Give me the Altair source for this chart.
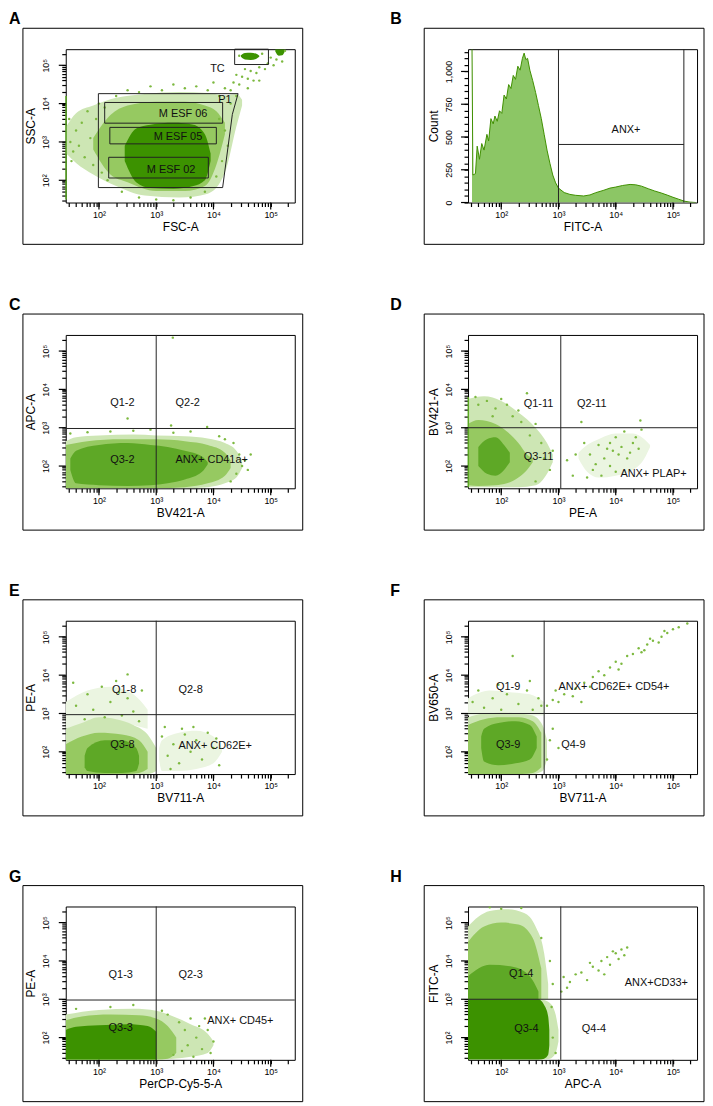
import math
import altair as alt
import pandas as pd

FONT = "Liberation Sans"
XDOM = [1.42, 5.42]          # log10 of fluorescence / scatter intensity
LOGDOM = [1.42, 5.42]
COUNTDOM = [0, 1170]
W, H = 230, 154
LETTER_Y = -25

COLORS = {"faint": "#ebf5e1", "halo": "#cde6b4", "mid": "#96c961", "dense": "#5ea826", "core": "#3c9200"}
LEVELS = ["faint", "halo", "mid", "dense", "core"]
DOT = "#7db940"
TICK = "#000000"

# ---------------- Panel A (FSC-A vs SSC-A) ----------------
A_BLOBS = [
    ("halo", [1.43, 1.6, 1.9, 2.3, 2.8, 3.4, 3.9, 4.2, 4.4, 4.5],
             [2.7, 2.45, 2.15, 1.85, 1.6, 1.55, 1.65, 2.2, 3.4, 3.95],
             [3.4, 3.75, 3.95, 4.15, 4.25, 4.3, 4.28, 4.22, 4.25, 4.1]),
    ("mid", [1.9, 2.2, 2.5, 3.0, 3.5, 3.85, 4.05, 4.2],
            [2.8, 2.15, 1.95, 1.72, 1.72, 1.85, 2.4, 3.2],
            [3.1, 3.7, 3.95, 4.05, 4.05, 3.95, 3.8, 3.5]),
    ("core", [2.45, 2.65, 2.9, 3.3, 3.65, 3.85, 3.95],
             [2.5, 1.95, 1.8, 1.78, 1.85, 2.0, 2.5],
             [2.9, 3.35, 3.45, 3.5, 3.45, 3.2, 2.7]),
    ("core", [4.48, 4.55, 4.65, 4.75, 4.8], [5.22, 5.15, 5.14, 5.17, 5.22], [5.26, 5.32, 5.33, 5.3, 5.25]),
    ("core", [5.08, 5.14, 5.2, 5.24], [5.36, 5.25, 5.26, 5.34], [5.42, 5.42, 5.42, 5.42]),
]
A_PTS = [(1.5, 3.0), (1.55, 2.75), (1.6, 3.3), (1.65, 2.9), (1.7, 3.5), (1.75, 2.6), (1.8, 3.8), (1.85, 3.1),
         (1.9, 2.4), (1.95, 3.6), (2.0, 4.0), (2.05, 2.2), (2.1, 3.9), (2.15, 2.0), (2.3, 4.2), (2.5, 4.35),
         (2.7, 4.3), (2.9, 4.45), (3.1, 4.35), (3.3, 4.5), (3.5, 4.4), (3.7, 4.45), (3.9, 4.35), (4.0, 4.55),
         (4.1, 4.2), (4.2, 4.4), (4.3, 4.35), (4.35, 4.55), (4.45, 4.5), (4.5, 4.7), (4.6, 4.65), (4.65, 4.85),
         (4.75, 4.8), (4.8, 4.95), (4.9, 4.9), (4.95, 5.05), (5.05, 5.0), (5.1, 5.15), (5.2, 5.1), (4.4, 4.75),
         (4.55, 4.9), (4.7, 4.6), (5.0, 5.2), (4.1, 3.6), (4.2, 3.3), (4.25, 2.9), (4.15, 2.5), (4.05, 2.1),
         (2.4, 1.7), (2.7, 1.55), (3.0, 1.5), (3.3, 1.48), (3.6, 1.55), (3.85, 1.7), (4.45, 5.25), (4.85, 5.3),
         (5.25, 5.38), (4.3, 4.0), (4.4, 4.2), (4.6, 4.4), (4.8, 4.6), (1.48, 3.6), (1.52, 2.5)]
A_EDGE = [(1.425, 1.5, 4.2)]
A_RECTS = [("TC", 4.37, 4.96, 5.02, 5.42), ("M ESF 06", 2.10, 4.16, 3.49, 4.03),
           ("M ESF 05", 2.19, 4.05, 2.95, 3.38), ("M ESF 02", 2.17, 3.91, 2.06, 2.60)]
A_P1 = [(1.99, 1.81), (1.99, 4.26), (4.43, 4.26), (4.33, 3.72), (4.16, 1.81), (1.99, 1.81)]
A_LABELS = [(4.07, 4.89, "TC"), (4.2, 4.1, "P1"), (3.47, 3.72, "M ESF 06"),
            (3.38, 3.14, "M ESF 05"), (3.26, 2.28, "M ESF 02")]

# ---------------- Panel B (FITC-A histogram) ----------------
B_X = [1.49, 1.505, 1.55, 1.58, 1.62, 1.66, 1.70, 1.75, 1.78, 1.82, 1.86, 1.89, 1.93, 1.97, 2.01, 2.05,
       2.09, 2.13, 2.17, 2.21, 2.25, 2.29, 2.33, 2.37, 2.40, 2.43, 2.46, 2.50, 2.55, 2.60, 2.65, 2.70,
       2.75, 2.80, 2.85, 2.90, 2.95, 3.00, 3.10, 3.20, 3.30, 3.44, 3.55, 3.65, 3.78, 3.90, 4.00, 4.12,
       4.25, 4.35, 4.45, 4.57, 4.68, 4.80, 4.91, 5.00, 5.10, 5.20, 5.30, 5.40]
B_COUNT = [1170, 210, 220, 430, 330, 450, 400, 520, 470, 640, 600, 660, 620, 700, 680, 820,
           790, 900, 870, 970, 940, 1040, 1010, 1100, 1140, 1090, 1100, 1010, 930, 840, 740, 640,
           520, 400, 300, 210, 150, 110, 76, 62, 55, 50, 58, 75, 92, 110, 118, 130,
           138, 135, 125, 105, 88, 72, 55, 40, 25, 10, 3, 0]
B_GATE_X = [3.0, 5.19]
B_GATE_SEG = [(3.0, 5.19, 443)]
B_LABELS = [(4.18, 556, "ANX+")]

# ---------------- Panel C ----------------
C_BLOBS = [
    ("halo", [1.42, 1.6, 2.0, 2.6, 3.0, 3.5, 3.9, 4.2, 4.4, 4.5],
             [1.42, 1.42, 1.42, 1.42, 1.42, 1.42, 1.45, 1.55, 1.7, 1.95],
             [2.65, 2.75, 2.8, 2.82, 2.8, 2.78, 2.72, 2.6, 2.4, 2.15]),
    ("mid", [1.42, 1.8, 2.4, 3.0, 3.5, 3.9, 4.2, 4.3],
            [1.42, 1.42, 1.42, 1.42, 1.45, 1.55, 1.75, 1.95],
            [2.55, 2.65, 2.7, 2.7, 2.65, 2.55, 2.35, 2.15]),
    ("dense", [1.5, 1.6, 2.0, 2.5, 2.9, 3.2, 3.5, 3.8, 3.9],
              [1.9, 1.55, 1.5, 1.48, 1.5, 1.55, 1.65, 1.85, 2.05],
              [2.2, 2.4, 2.55, 2.6, 2.55, 2.5, 2.4, 2.25, 2.1]),
]
C_PTS = [(3.29, 5.35), (2.5, 3.24), (3.26, 3.06), (3.89, 3.02), (2.9, 2.95), (4.45, 2.3), (4.5, 2.0),
         (4.35, 2.6), (4.6, 1.9), (2.2, 2.9), (1.8, 2.88), (3.6, 2.9), (4.1, 2.78), (4.3, 1.6),
         (4.55, 2.15), (1.5, 2.85), (2.6, 2.92), (3.3, 2.87), (4.4, 1.8), (4.65, 2.3), (4.2, 2.7)]
C_GATE = (3.0, 2.98)
C_LABELS = [(2.41, 3.64, "Q1-2"), (3.55, 3.64, "Q2-2"), (2.41, 2.15, "Q3-2"), (3.97, 2.15, "ANX+ CD41a+")]

# ---------------- Panel D ----------------
D_BLOBS = [
    ("halo", [1.42, 1.7, 2.0, 2.3, 2.6, 2.8, 2.9],
             [1.45, 1.45, 1.45, 1.45, 1.5, 1.8, 2.1],
             [3.75, 3.82, 3.7, 3.4, 3.0, 2.6, 2.3]),
    ("mid", [1.42, 1.6, 1.9, 2.1, 2.3, 2.45, 2.55],
            [1.5, 1.48, 1.5, 1.55, 1.7, 1.9, 2.1],
            [3.1, 3.2, 3.1, 2.9, 2.6, 2.3, 2.2]),
    ("dense", [1.6, 1.75, 1.9, 2.05, 2.15], [2.0, 1.8, 1.75, 1.9, 2.1], [2.5, 2.7, 2.75, 2.55, 2.35]),
    ("faint", [3.35, 3.5, 3.7, 4.0, 4.3, 4.5, 4.6],
              [2.2, 1.85, 1.7, 1.75, 1.9, 2.2, 2.5],
              [2.35, 2.55, 2.7, 2.85, 2.85, 2.7, 2.55]),
]
D_PTS = [(1.6, 3.6), (1.75, 3.7), (1.9, 3.5), (2.1, 3.6), (2.2, 3.3), (2.35, 3.15), (1.55, 3.8), (2.45, 3.9),
         (1.85, 3.3), (2.0, 3.75), (2.3, 3.45), (2.6, 3.1), (2.7, 2.6), (2.75, 2.2), (2.85, 1.9), (2.6, 1.6),
         (2.9, 2.4), (2.5, 2.8), (3.55, 2.3), (3.7, 2.55), (3.8, 2.2), (3.9, 2.6), (3.95, 2.4), (4.0, 2.75),
         (4.05, 2.3), (4.1, 2.5), (4.15, 2.9), (4.2, 2.2), (4.3, 2.6), (4.4, 2.45), (3.6, 1.9), (3.75, 1.75),
         (4.45, 2.95), (4.43, 3.19), (3.3, 2.3), (3.65, 2.05), (3.85, 2.45), (4.25, 2.35), (3.5, 1.7),
         (3.9, 2.0), (4.0, 1.85), (4.35, 2.75), (3.45, 2.6), (3.25, 1.75), (3.15, 2.15), (3.4, 3.15)]
D_EDGE = [(1.425, 1.45, 3.8)]
D_GATE = (3.04, 3.0)
D_LABELS = [(2.65, 3.63, "Q1-11"), (3.58, 3.63, "Q2-11"), (2.65, 2.23, "Q3-11"), (4.66, 1.79, "ANX+ PLAP+")]

# ---------------- Panel E ----------------
E_BLOBS = [
    ("faint", [1.42, 1.8, 2.2, 2.6, 2.85], [2.6, 2.75, 2.85, 2.7, 2.6], [3.3, 3.6, 3.7, 3.5, 3.1]),
    ("faint", [3.05, 3.1, 3.4, 3.7, 4.0, 4.15], [1.8, 1.5, 1.5, 1.55, 1.7, 2.0], [2.1, 2.3, 2.5, 2.55, 2.4, 2.1]),
    ("halo", [1.42, 1.7, 2.0, 2.3, 2.6, 2.85, 3.0],
             [1.42, 1.42, 1.42, 1.42, 1.42, 1.42, 1.5],
             [2.6, 2.75, 2.9, 2.85, 2.7, 2.45, 2.1]),
    ("mid", [1.42, 1.7, 2.0, 2.4, 2.7, 2.85],
            [1.42, 1.42, 1.42, 1.42, 1.45, 1.55],
            [2.2, 2.4, 2.5, 2.45, 2.3, 2.0]),
    ("dense", [1.75, 1.8, 2.1, 2.4, 2.65, 2.7], [1.6, 1.5, 1.45, 1.45, 1.5, 1.7], [1.9, 2.1, 2.3, 2.3, 2.1, 1.9]),
]
E_PTS = [(1.6, 3.2), (1.8, 3.5), (1.9, 3.1), (2.05, 3.7), (2.2, 3.3), (2.3, 3.85), (2.5, 3.4), (2.6, 3.05),
         (2.75, 3.6), (2.5, 4.02), (1.55, 3.8), (2.1, 2.9), (2.4, 2.95), (2.7, 2.8), (1.75, 2.85), (2.35, 3.55),
         (3.1, 2.4), (3.2, 1.9), (3.3, 2.2), (3.4, 1.7), (3.5, 2.45), (3.6, 2.0), (3.7, 2.3), (3.8, 1.8),
         (3.9, 2.5), (4.0, 2.1), (4.1, 1.65), (3.45, 2.6), (3.65, 2.65), (3.25, 1.55), (4.05, 2.35), (3.15, 2.65)]
E_GATE = (3.0, 2.97)
E_LABELS = [(2.44, 3.61, "Q1-8"), (3.6, 3.61, "Q2-8"), (2.41, 2.18, "Q3-8"), (4.03, 2.15, "ANX+ CD62E+")]

# ---------------- Panel F ----------------
F_BLOBS = [
    ("faint", [1.42, 1.8, 2.2, 2.5, 2.75], [2.95, 2.95, 2.95, 2.95, 2.95], [3.4, 3.6, 3.55, 3.5, 3.3]),
    ("halo", [1.42, 1.7, 2.0, 2.3, 2.55, 2.72, 2.8],
             [1.42, 1.42, 1.42, 1.42, 1.42, 1.5, 1.8],
             [2.9, 3.0, 3.02, 3.0, 2.95, 2.7, 2.3]),
    ("mid", [1.42, 1.7, 2.0, 2.3, 2.55, 2.7],
            [1.42, 1.42, 1.42, 1.42, 1.45, 1.6],
            [2.7, 2.85, 2.9, 2.9, 2.8, 2.5]),
    ("dense", [1.65, 1.7, 1.95, 2.25, 2.5, 2.62], [2.1, 1.75, 1.65, 1.7, 1.8, 2.1], [2.4, 2.6, 2.75, 2.8, 2.7, 2.4]),
]
F_PTS = [(2.8, 3.2), (2.9, 3.35), (3.0, 3.3), (3.1, 3.5), (3.25, 3.45), (3.3, 3.65), (3.45, 3.8), (3.6, 3.95),
         (3.7, 4.1), (3.8, 4.0), (3.9, 4.2), (4.0, 4.35), (4.1, 4.3), (4.2, 4.5), (4.3, 4.55), (4.4, 4.7),
         (4.5, 4.65), (4.55, 4.8), (4.65, 4.9), (4.75, 4.85), (4.8, 5.0), (4.9, 5.1), (5.0, 5.2), (5.1, 5.25),
         (5.25, 5.35), (4.45, 4.6), (4.6, 4.95), (4.85, 5.15), (3.55, 3.7), (4.05, 4.15), (2.95, 3.6), (3.4, 3.3),
         (1.5, 3.3), (1.6, 3.6), (1.7, 3.15), (1.85, 3.4), (2.0, 3.1), (2.1, 3.5), (2.3, 3.25), (2.45, 3.6),
         (2.55, 3.1), (2.65, 3.4), (2.2, 4.5), (2.5, 3.85), (1.95, 3.75), (2.7, 3.2),
         (2.85, 2.3), (2.9, 2.6), (2.8, 1.8), (3.0, 2.1)]
F_GATE = (2.75, 3.0)
F_LABELS = [(2.12, 3.68, "Q1-9"), (3.97, 3.68, "ANX+ CD62E+ CD54+"), (2.12, 2.18, "Q3-9"), (3.26, 2.18, "Q4-9")]

# ---------------- Panel G ----------------
G_BLOBS = [
    ("halo", [1.42, 2.0, 2.6, 3.0, 3.3, 3.6, 3.9, 4.0],
             [1.42, 1.42, 1.42, 1.42, 1.45, 1.5, 1.6, 1.8],
             [2.6, 2.72, 2.75, 2.7, 2.55, 2.35, 2.1, 1.9]),
    ("mid", [1.42, 1.7, 2.2, 2.7, 3.0, 3.2, 3.35],
            [1.42, 1.42, 1.42, 1.42, 1.42, 1.45, 1.6],
            [2.45, 2.55, 2.6, 2.58, 2.5, 2.3, 2.0]),
    ("core", [1.42, 1.6, 2.0, 2.5, 2.85, 3.0],
             [1.42, 1.42, 1.42, 1.42, 1.42, 1.42],
             [2.2, 2.28, 2.32, 2.35, 2.3, 2.15]),
]
G_PTS = [(3.4, 2.4), (3.5, 2.2), (3.55, 1.8), (3.6, 2.5), (3.7, 2.0), (3.75, 2.3), (3.8, 1.7), (3.9, 2.2),
         (3.95, 1.6), (3.85, 2.5), (3.3, 1.55), (3.45, 1.65), (2.2, 2.8), (1.6, 2.75), (2.6, 2.85), (3.1, 2.7),
         (3.65, 1.5), (4.0, 1.9), (3.2, 2.6)]
G_GATE = (3.0, 2.98)
G_LABELS = [(2.38, 3.62, "Q1-3"), (3.6, 3.62, "Q2-3"), (2.38, 2.24, "Q3-3"), (4.47, 2.42, "ANX+ CD45+")]

# ---------------- Panel H ----------------
H_BLOBS = [
    ("halo", [1.42, 1.6, 1.8, 2.1, 2.4, 2.6, 2.75, 2.82],
             [3.0, 3.0, 3.0, 3.0, 3.0, 3.0, 3.0, 3.0],
             [4.9, 5.15, 5.3, 5.35, 5.25, 4.9, 4.2, 3.4]),
    ("mid", [1.42, 1.7, 2.0, 2.3, 2.55, 2.7],
            [3.0, 3.0, 3.0, 3.0, 3.0, 3.0],
            [4.5, 4.9, 5.0, 4.95, 4.6, 3.8]),
    ("dense", [1.42, 1.8, 2.2, 2.5, 2.65], [3.0, 3.0, 3.0, 3.0, 3.0], [3.6, 3.9, 3.85, 3.6, 3.2]),
    ("halo", [2.7, 2.85, 2.95, 3.0], [1.42, 1.45, 1.6, 1.9], [3.0, 2.9, 2.6, 2.2]),
    ("core", [1.42, 2.0, 2.5, 2.65, 2.75, 2.82, 2.84],
             [1.42, 1.42, 1.42, 1.42, 1.45, 1.55, 1.8],
             [3.0, 3.0, 3.0, 3.0, 2.85, 2.55, 2.2]),
]
H_PTS = [(3.09, 3.58), (3.2, 3.45), (3.3, 3.65), (3.4, 3.7), (3.5, 3.5), (3.6, 3.85), (3.7, 3.75), (3.75, 4.0),
         (3.85, 4.1), (3.9, 3.9), (4.0, 4.2), (4.05, 4.05), (4.1, 4.3), (4.2, 4.35), (3.95, 4.25), (3.55, 3.95),
         (3.15, 3.3), (3.05, 3.2), (4.15, 4.15), (3.8, 3.65), (2.0, 5.36), (1.8, 5.4), (2.35, 5.38),
         (2.7, 4.6), (2.85, 4.0), (2.9, 3.4), (2.88, 2.8), (2.9, 2.0), (2.95, 1.6)]
H_GATE = (3.04, 3.0)
H_LABELS = [(2.35, 3.65, "Q1-4"), (4.71, 3.43, "ANX+CD33+"), (2.44, 2.23, "Q3-4"), (3.62, 2.23, "Q4-4")]

# ---------------- axes helpers ----------------
LOG_TICKS = sorted(v for v in {round(math.log10(k * 10 ** d), 4) for d in range(1, 6) for k in range(1, 10)}
                   if XDOM[0] <= v <= XDOM[1])
LOG_MAJOR = [2, 3, 4, 5]
DECADE_LABELS = ("datum.value == 2 ? '10\u00b2' : datum.value == 3 ? '10\u00b3' : "
                 "datum.value == 4 ? '10\u2074' : datum.value == 5 ? '10\u2075' : ''")
COUNT_TICKS = list(range(0, 1151, 50))
COUNT_MAJOR = [0, 250, 500, 750, 1000]
COUNT_LABELS = "datum.value % 250 == 0 ? format(datum.value, ',') : ''"
MAJOR_LEN = 7


def make_axis(title, orient, values, label_expr):
    kw = dict(title=title, values=values, labelExpr=label_expr, grid=False, domain=False,
              ticks=True, tickColor=TICK, tickWidth=1.2, tickSize=4,
              labelFont=FONT, labelFontSize=9, labelColor="black",
              titleFont=FONT, titleFontSize=12, titleFontWeight="normal", titleColor="black")
    if orient == "left":
        kw.update(labelAngle=270, labelAlign="center", labelBaseline="bottom", labelPadding=11, titlePadding=4)
    else:
        kw.update(labelPadding=4, titlePadding=2)
    return alt.Axis(**kw)


def sc(dom):
    return alt.Scale(domain=dom, nice=False, zero=False)


class Ax:
    """Holds the shared axes of one panel so that every layer repeats them identically."""

    def __init__(self, xa, ya, ydom):
        self.xa, self.ya, self.ydom = xa, ya, ydom

    def X(self, field="x"):
        return alt.X(f"{field}:Q", scale=sc(XDOM), axis=self.xa)

    def Y(self, field="y"):
        return alt.Y(f"{field}:Q", scale=sc(self.ydom), axis=self.ya)


def major_ticks(ax, xmajor, ymajor):
    xt = alt.Chart(pd.DataFrame({"x": xmajor})).mark_rule(color=TICK, strokeWidth=1.2).encode(
        x=ax.X(), y=alt.value(H), y2=alt.value(H + MAJOR_LEN))
    yt = alt.Chart(pd.DataFrame({"y": ymajor})).mark_rule(color=TICK, strokeWidth=1.2).encode(
        y=ax.Y(), x=alt.value(0), x2=alt.value(-MAJOR_LEN))
    return [xt, yt]


def blob_layers(ax, blobs):
    rows = []
    for i, (lvl, xs, los, his) in enumerate(blobs):
        for x, lo, hi in zip(xs, los, his):
            rows.append({"blob": i, "level": lvl, "x": x, "lo": lo, "hi": hi})
    df = pd.DataFrame(rows)
    out = []
    for lvl in LEVELS:
        sub = df[df["level"] == lvl]
        if len(sub) == 0:
            continue
        out.append(alt.Chart(sub).mark_area(color=COLORS[lvl], interpolate="monotone", clip=True).encode(
            x=ax.X(), y=ax.Y("hi"), y2="lo:Q", detail="blob:N"))
    return out


def points_layer(ax, pts):
    df = pd.DataFrame(pts, columns=["x", "y"])
    return alt.Chart(df).mark_circle(size=6, color=DOT, opacity=1, clip=True).encode(x=ax.X(), y=ax.Y())


def edge_layer(ax, edges):
    df = pd.DataFrame(edges, columns=["x", "y", "y2"])
    return alt.Chart(df).mark_rule(color="#5aa822", strokeWidth=1.5).encode(x=ax.X(), y=ax.Y(), y2="y2:Q")


def quad_layers(ax, gate):
    gx, gy = gate
    v = alt.Chart(pd.DataFrame({"x": [gx]})).mark_rule(color="#222", strokeWidth=1).encode(x=ax.X())
    h = alt.Chart(pd.DataFrame({"y": [gy]})).mark_rule(color="#222", strokeWidth=1).encode(y=ax.Y())
    return [v, h]


def text_layer(ax, labels):
    df = pd.DataFrame(labels, columns=["x", "y", "t"])
    return alt.Chart(df).mark_text(font=FONT, fontSize=11, color="#111").encode(
        x=ax.X(), y=ax.Y(), text="t:N")


def panel(letter, side, xtitle, ytitle, build, count=False):
    one = pd.DataFrame({"k": [0]})
    ydom = COUNTDOM if count else LOGDOM
    if count:
        yaxis = make_axis(ytitle, "left", COUNT_TICKS, COUNT_LABELS)
    else:
        yaxis = make_axis(ytitle, "left", LOG_TICKS, DECADE_LABELS)
    xaxis = make_axis(xtitle, "bottom", LOG_TICKS, DECADE_LABELS)
    ax = Ax(xaxis, yaxis, ydom)
    if side == "left":
        fx0, fx1, lx = -43, 8, -57
    else:
        fx0, fx1, lx = -44, 7, -78
    # outer panel frame (stroke only), drawn first so nothing sits over the axes
    frame = alt.Chart(one).mark_rect(filled=False, stroke="black", strokeWidth=1).encode(
        x=alt.value(fx0), x2=alt.value(W + fx1), y=alt.value(-21), y2=alt.value(H + 42))
    lab = alt.Chart(one).mark_text(text=letter, font=FONT, fontSize=16, fontWeight="bold", align="left",
                                   baseline="alphabetic", color="black").encode(
        x=alt.value(lx), y=alt.value(LETTER_Y))
    layers = [frame, lab] + build(ax) + major_ticks(ax, LOG_MAJOR, COUNT_MAJOR if count else LOG_MAJOR)
    return alt.layer(*layers).properties(width=W, height=H)


def build_A(ax):
    rect_df = pd.DataFrame(A_RECTS, columns=["name", "x", "x2", "y", "y2"])
    rects = alt.Chart(rect_df).mark_rect(filled=False, stroke="#222", strokeWidth=1).encode(
        x=ax.X(), x2="x2:Q", y=ax.Y(), y2="y2:Q")
    p1_df = pd.DataFrame(A_P1, columns=["x", "y"]).reset_index().rename(columns={"index": "i"})
    p1 = alt.Chart(p1_df).mark_line(color="#222", strokeWidth=1).encode(x=ax.X(), y=ax.Y(), order="i:Q")
    return blob_layers(ax, A_BLOBS) + [points_layer(ax, A_PTS), edge_layer(ax, A_EDGE), rects, p1,
                                       text_layer(ax, A_LABELS)]


def build_B(ax):
    bdf = pd.DataFrame({"x": B_X, "count": B_COUNT})
    area = alt.Chart(bdf).mark_area(color="#8cc665", clip=True).encode(x=ax.X(), y=ax.Y("count"))
    line = alt.Chart(bdf).mark_line(color="#3f8f00", strokeWidth=1, clip=True).encode(x=ax.X(), y=ax.Y("count"))
    v = alt.Chart(pd.DataFrame({"x": B_GATE_X})).mark_rule(color="#222", strokeWidth=1).encode(x=ax.X())
    h = alt.Chart(pd.DataFrame(B_GATE_SEG, columns=["x", "x2", "y"])).mark_rule(
        color="#222", strokeWidth=1).encode(x=ax.X(), x2="x2:Q", y=ax.Y())
    return [area, line, v, h, text_layer(ax, B_LABELS)]


def build_quad(blobs, pts, gate, labels, edges=None):
    def build(ax):
        layers = blob_layers(ax, blobs) + [points_layer(ax, pts)]
        if edges:
            layers.append(edge_layer(ax, edges))
        return layers + quad_layers(ax, gate) + [text_layer(ax, labels)]
    return build


pA = panel("A", "left", "FSC-A", "SSC-A", build_A)
pB = panel("B", "right", "FITC-A", "Count", build_B, count=True)
pC = panel("C", "left", "BV421-A", "APC-A", build_quad(C_BLOBS, C_PTS, C_GATE, C_LABELS))
pD = panel("D", "right", "PE-A", "BV421-A", build_quad(D_BLOBS, D_PTS, D_GATE, D_LABELS, D_EDGE))
pE = panel("E", "left", "BV711-A", "PE-A", build_quad(E_BLOBS, E_PTS, E_GATE, E_LABELS))
pF = panel("F", "right", "BV711-A", "BV650-A", build_quad(F_BLOBS, F_PTS, F_GATE, F_LABELS))
pG = panel("G", "left", "PerCP-Cy5-5-A", "PE-A", build_quad(G_BLOBS, G_PTS, G_GATE, G_LABELS))
pH = panel("H", "right", "APC-A", "FITC-A", build_quad(H_BLOBS, H_PTS, H_GATE, H_LABELS))

rows = [alt.hconcat(a, b, spacing=86) for a, b in [(pA, pB), (pC, pD), (pE, pF), (pG, pH)]]
chart = alt.vconcat(*rows, spacing=51, padding={"left": 0, "top": 0, "right": 0, "bottom": 0}).configure_view(
    stroke="black", strokeWidth=1)

chart.save("out.html", embed_options={"renderer": "svg", "actions": False})
